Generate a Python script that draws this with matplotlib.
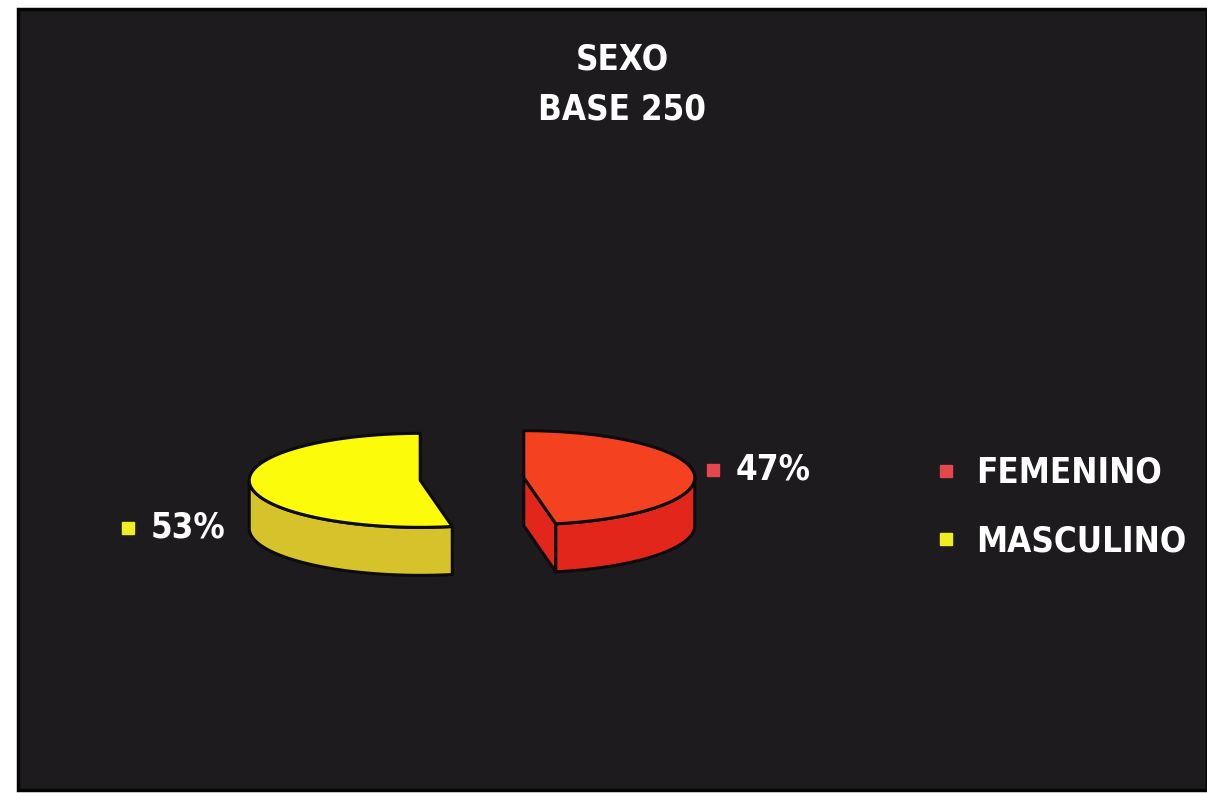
import numpy as np
import matplotlib
matplotlib.use('Agg')
import matplotlib.pyplot as plt
from matplotlib.patches import Polygon, Rectangle
from matplotlib.lines import Line2D

# data
categories = ['FEMENINO', 'MASCULINO']
percent = [47, 53]
title_lines = ['SEXO', 'BASE 250']

top_colors = ['#f4411f', '#fbfb0a']
side_colors = ['#e3261b', '#d6c22a']
marker_colors = ['#e4484a', '#eeee22']

W, H = 1207, 793
fig = plt.figure(figsize=(W / 100, H / 100), dpi=100)
fig.patch.set_facecolor('white')
ax = fig.add_axes([0, 0, 1, 1])
ax.set_xlim(0, W)
ax.set_ylim(H, 0)
ax.axis('off')

# dark panel
ax.add_patch(Rectangle((18, 9), W - 18, 781, facecolor='#1d1b1e',
                       edgecolor='#050505', lw=2.5))

txt = dict(family='DejaVu Sans', fontstretch='condensed', fontweight='bold',
           color='white')

# 3d pie geometry, in pixels
cx0, cy0 = 472, 479
rx, ry, depth, explode = 171, 47, 48, 52
edge = dict(edgecolor='#0c0a0a', lw=2.2, joinstyle='round')


def ell(cx, cy, a):
    return cx + rx * np.cos(a), cy - ry * np.sin(a)


fr = np.array(percent) / sum(percent)
start = 90.0
for frac, top, side in zip(fr, top_colors, side_colors):
    span = 360 * frac
    lo, hi = start - span, start       # clockwise from 12 o'clock
    start = lo
    mid = np.radians((lo + hi) / 2)
    cx = cx0 + explode * np.cos(mid)
    cy = cy0 - explode * np.sin(mid) * ry / rx

    # cut faces
    for ang, vis in ((lo, np.cos(np.radians(lo)) > 0),
                     (hi, np.cos(np.radians(hi)) < 0)):
        if vis:
            ex, ey = ell(cx, cy, np.radians(ang))
            ax.add_patch(Polygon([(cx, cy), (ex, ey), (ex, ey + depth),
                                  (cx, cy + depth)], facecolor=side, **edge))
    # outer wall (front half only)
    for k in (-1, 0, 1):
        a, b = max(lo, -180 + 360 * k), min(hi, 360 * k)
        if a < b:
            t = np.radians(np.linspace(a, b, 120))
            x, y = ell(cx, cy, t)
            pts = np.r_[np.c_[x, y], np.c_[x, y + depth][::-1]]
            ax.add_patch(Polygon(pts, facecolor=side, **edge))
    # top face
    t = np.radians(np.linspace(lo, hi, 200))
    x, y = ell(cx, cy, t)
    pts = np.r_[[[cx, cy]], np.c_[x, y]]
    ax.add_patch(Polygon(pts, facecolor=top, **edge))

# percentage labels
label_pos = [(713, 470), (128, 528)]
for p, c, (lx, ly) in zip(percent, marker_colors, label_pos):
    ax.plot(lx, ly, marker='s', ms=9, mfc=c, mec=c, ls='none')
    ax.text(lx + 23, ly, f'{p}%', fontsize=25, va='center', ha='left', **txt)

# title
ax.text(622, 60, title_lines[0], fontsize=25, ha='center', va='center', **txt)
ax.text(622, 109, title_lines[1], fontsize=25, ha='center', va='center', **txt)

# legend
handles = [Line2D([], [], ls='none', marker='s', ms=9, mfc=c, mec=c)
           for c in marker_colors]
ax.legend(handles, categories, loc='center left',
          bbox_to_anchor=(933 / W, 1 - 507 / H), frameon=False,
          labelcolor='white',
          prop=dict(family='DejaVu Sans', stretch='condensed', weight='bold',
                    size=25),
          handlelength=0.72, handletextpad=0.52, labelspacing=0.98,
          borderpad=0, borderaxespad=0)

fig.savefig('out.png', dpi=100, facecolor=fig.get_facecolor())
